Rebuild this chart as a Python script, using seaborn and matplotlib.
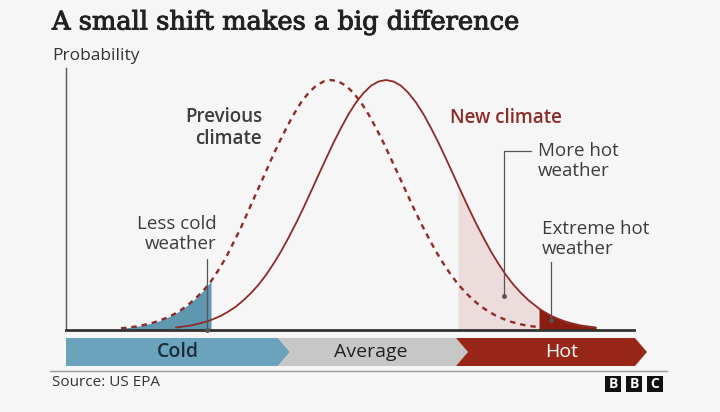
import numpy as np
import matplotlib
matplotlib.use("Agg")
import matplotlib.pyplot as plt
import matplotlib.patheffects as pe
import seaborn as sns
from matplotlib.patches import Polygon, Rectangle
from matplotlib.lines import Line2D
from matplotlib.transforms import Affine2D

# Curves: x = distance from the probability axis, y = relative probability
prev_x = [55, 62.5, 70, 77.5, 85, 92.5, 100, 107.5, 115, 122.5, 130, 137.5, 145, 152.5, 160, 167.5,
          175, 182.5, 190, 197.5, 205, 212.5, 220, 227.5, 235, 242.5, 250, 257.5, 265,
          272.5, 280, 287.5, 295, 302.5, 310, 317.5, 325, 332.5, 340, 347.5, 355, 362.5,
          370, 377.5, 385, 392.5, 400, 407.5, 415, 422.5, 430, 437.5, 445, 452.5, 460, 467.5, 475]
prev_y = [0.007, 0.010, 0.014, 0.020, 0.027, 0.036, 0.048, 0.062, 0.080, 0.102, 0.128, 0.158,
          0.195, 0.240, 0.290, 0.350, 0.410, 0.478, 0.545, 0.612, 0.680, 0.745, 0.805, 0.861,
          0.910, 0.948, 0.977, 0.994, 1.000,
          0.994, 0.977, 0.948, 0.910, 0.863, 0.808, 0.749, 0.685, 0.620, 0.554, 0.489, 0.427,
          0.369, 0.314, 0.265, 0.220, 0.181, 0.148, 0.119, 0.094, 0.074, 0.057, 0.044, 0.033,
          0.025, 0.018, 0.014, 0.010]

new_x = [110, 117.5, 125, 132.5, 140, 147.5, 155, 162.5, 170, 177.5, 185, 192.5, 200, 207.5,
         215, 222.5, 230, 237.5, 245, 252.5, 260, 267.5, 275, 282.5, 290, 297.5, 305, 312.5, 320,
         327.5, 335, 342.5, 350, 357.5, 365, 372.5, 380, 387.5, 392, 402.5, 410, 417.5,
         425, 432.5, 440, 447.5, 455, 462.5, 473, 477.5, 485, 492.5, 500, 507.5, 515, 522.5, 530]
new_y = [0.010, 0.014, 0.018, 0.025, 0.033, 0.044, 0.057, 0.074, 0.094, 0.119, 0.148, 0.181,
         0.220, 0.265, 0.314, 0.369, 0.427, 0.489, 0.554, 0.620, 0.685, 0.749, 0.808, 0.863,
         0.910, 0.948, 0.977, 0.994, 1.000,
         0.994, 0.977, 0.948, 0.910, 0.863, 0.808, 0.749, 0.685, 0.620, 0.580, 0.489, 0.427,
         0.369, 0.314, 0.265, 0.220, 0.181, 0.148, 0.119, 0.086, 0.074, 0.057, 0.044, 0.033,
         0.025, 0.018, 0.014, 0.010]

# thresholds on the same x scale
cold_cut = 145
hot_cut = 392
extreme_cut = 473

band_labels = ['Cold', 'Average', 'Hot']
title = 'A small shift makes a big difference'
source = 'Source: US EPA'

W, H = 720, 412
BG = '#f6f6f6'
RED = '#8e2b27'
TXT = '#3d3d3d'

sns.set_theme(style='white')
plt.rcParams['font.family'] = ['Open Sans', 'DejaVu Sans']

fig = plt.figure(figsize=(W / 100, H / 100), dpi=100, facecolor=BG)
# pixel coordinates, origin top-left
pix = Affine2D().scale(1 / W, -1 / H).translate(0, 1) + fig.transFigure

ax = fig.add_axes([66 / W, 1 - 330 / H, 568 / W, 262 / H])
ax.set_facecolor('none')
ax.set_xlim(0, 568)
ax.set_ylim(0, 262 / 250)

# shaded areas
px_, py_ = np.array(prev_x), np.array(prev_y)
nx_, ny_ = np.array(new_x), np.array(new_y)
m = px_ <= cold_cut
ax.fill_between(px_[m], py_[m], color='#5f97b1', lw=0, zorder=1)
m = (nx_ >= hot_cut) & (nx_ <= extreme_cut)
ax.fill_between(nx_[m], ny_[m], color='#ecdcdb', lw=0, zorder=1)
m = nx_ >= extreme_cut
ax.fill_between(nx_[m], ny_[m], color='#8a1c12', lw=0, zorder=1)

# curves
sns.lineplot(x=prev_x, y=prev_y, ax=ax, color=RED, lw=1.7, ls=(0, (2.3, 2.1)), zorder=3)
sns.lineplot(x=new_x, y=new_y, ax=ax, color=RED, lw=1.3, zorder=3)

sns.despine(ax=ax)
ax.spines['left'].set_color('#555555')
ax.spines['left'].set_linewidth(1.0)
ax.spines['bottom'].set_color('#333333')
ax.spines['bottom'].set_linewidth(2.0)
ax.set_xticks([])
ax.set_yticks([])
ax.set_xlabel('')
ax.set_ylabel('')

# titles
fig.text(52, 22, title, transform=pix, fontsize=18.5, family='DejaVu Serif',
         va='center', ha='left', color='#222222',
         path_effects=[pe.withStroke(linewidth=0.7, foreground='#222222')])
fig.text(52, 56, 'Probability', transform=pix, fontsize=12.5, va='center', color='#333333')

# annotations
fs = 13.5
fig.text(262, 128, 'Previous\nclimate', transform=pix, fontsize=fs, fontweight='semibold',
         ha='right', va='center', multialignment='right', color=TXT, linespacing=1.15)
fig.text(450, 118, 'New climate', transform=pix, fontsize=fs, fontweight='semibold',
         ha='left', va='center', color=RED)
fig.text(538, 161, 'More hot\nweather', transform=pix, fontsize=fs, ha='left', va='center',
         color=TXT, linespacing=1.15)
fig.text(542, 239, 'Extreme hot\nweather', transform=pix, fontsize=fs, ha='left', va='center',
         color=TXT, linespacing=1.15)
fig.text(217, 234, 'Less cold\nweather', transform=pix, fontsize=fs, ha='right', va='center',
         multialignment='right', color=TXT, linespacing=1.15)

leaders = [([531, 504, 504], [151, 151, 296]),
           ([551, 551], [262, 320]),
           ([207, 207], [259, 330])]
for xs, ys in leaders:
    fig.add_artist(Line2D(xs, ys, transform=pix, color='#555555', lw=0.9, zorder=5))
    fig.add_artist(Line2D([xs[-1]], [ys[-1]], transform=pix, marker='o', ms=2.5,
                          color='#555555', zorder=5))

# category band
band_polys = [
    [(66, 338), (278, 338), (290, 352), (278, 366), (66, 366)],
    [(278, 338), (456, 338), (468, 352), (456, 366), (278, 366), (290, 352)],
    [(456, 338), (635, 338), (647, 352), (635, 366), (456, 366), (468, 352)],
]
band_colors = ['#6ba2bc', '#c7c7c7', '#982619']
band_text = [(178, '#1c2b38', 'semibold'), (371, '#222222', 'normal'), (562, 'white', 'normal')]
for poly, col, (tx, tc, tw), lab in zip(band_polys, band_colors, band_text, band_labels):
    fig.add_artist(Polygon(poly, closed=True, transform=pix, facecolor=col, edgecolor='none'))
    fig.text(tx, 352, lab, transform=pix, fontsize=14, color=tc, fontweight=tw,
             ha='center', va='center')

# footer
fig.add_artist(Line2D([50, 667], [371, 371], transform=pix, color='#999999', lw=1))
fig.text(52, 383, source, transform=pix, fontsize=11, va='center', color='#333333')
for bx, letter in zip([605, 626, 647], 'BBC'):
    fig.add_artist(Rectangle((bx, 376), 16, 16, transform=pix, facecolor='#111111', edgecolor='none'))
    fig.text(bx + 8, 384, letter, transform=pix, fontsize=10, fontweight='bold', color='white',
             ha='center', va='center')

fig.savefig('out.png', dpi=100, facecolor=BG)
